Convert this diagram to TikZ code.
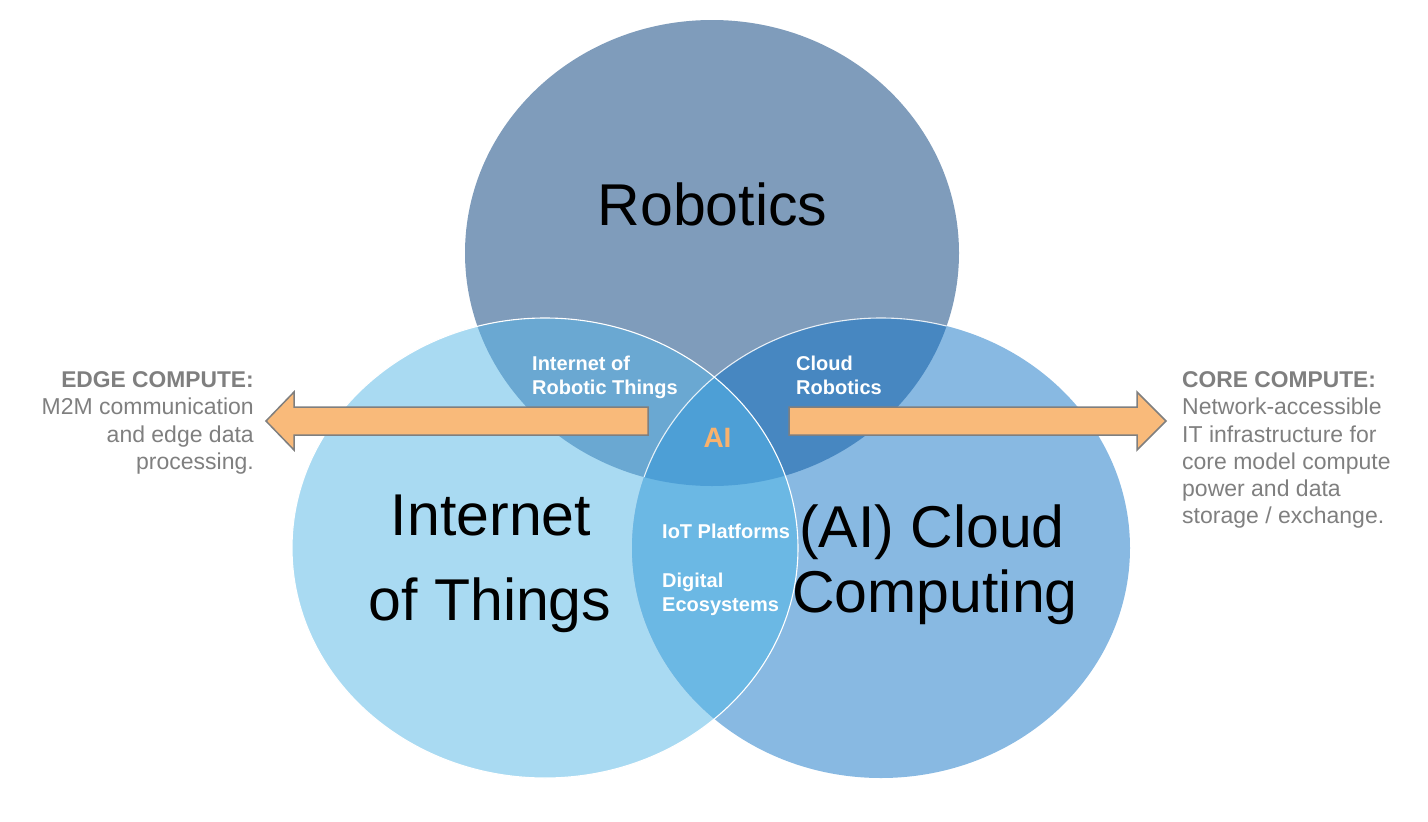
\documentclass[tikz,border=0pt]{standalone}
\usepackage{fontspec}
\setmainfont{Liberation Sans}
\definecolor{cTop}{HTML}{7F9CBB}
\definecolor{cLeft}{HTML}{A9DAF2}
\definecolor{cRight}{HTML}{88B9E2}
\definecolor{cTL}{HTML}{6AA8D2}
\definecolor{cTR}{HTML}{4787C1}
\definecolor{cLR}{HTML}{6BB8E4}
\definecolor{cAll}{HTML}{4D9FD6}
\definecolor{cGray}{HTML}{7F7F7F}
\definecolor{cOrange}{HTML}{F9BA7A}
\definecolor{cAI}{HTML}{F8B26E}
\tikzset{
  big/.style={font=\fontsize{59}{59}\selectfont, inner sep=0pt, anchor=base},
  lbl/.style={font=\bfseries\fontsize{20}{20}\selectfont, text=white, inner sep=0pt, anchor=base west},
  sidehead/.style={font=\bfseries\fontsize{22.8}{22.8}\selectfont, text=cGray, inner sep=0pt},
  sidetxt/.style={font=\fontsize{23}{23}\selectfont, text=cGray, inner sep=0pt},
  arrowshape/.style={fill=cOrange, draw=cGray, line width=1.5pt, line join=miter},
  rim/.style={draw=white, line width=1.1pt}
}
\begin{document}
\begin{tikzpicture}[x=1pt,y=-1pt]
\useasboundingbox (0,0) rectangle (1428,822);
% base circles
\fill[cTop] (712,253) ellipse [x radius=247pt, y radius=233pt];
\fill[cLeft] (545,548) ellipse [x radius=253pt, y radius=230pt];
\fill[cRight] (881,548) ellipse [x radius=249pt, y radius=230pt];
% pairwise overlaps
\begin{scope}
  \clip (712,253) ellipse [x radius=247pt, y radius=233pt];
  \fill[cTL] (545,548) ellipse [x radius=253pt, y radius=230pt];
  \fill[cTR] (881,548) ellipse [x radius=249pt, y radius=230pt];
\end{scope}
\begin{scope}
  \clip (545,548) ellipse [x radius=253pt, y radius=230pt];
  \fill[cLR] (881,548) ellipse [x radius=249pt, y radius=230pt];
  \clip (881,548) ellipse [x radius=249pt, y radius=230pt];
  \fill[cAll] (712,253) ellipse [x radius=247pt, y radius=233pt];
\end{scope}
% white rims
\draw[rim] (545,548) ellipse [x radius=253pt, y radius=230pt];
\begin{scope}
  \clip (712,253) ellipse [x radius=247pt, y radius=233pt];
  \draw[rim, draw opacity=0.85] (881,548) ellipse [x radius=249pt, y radius=230pt];
\end{scope}
% arrows
\draw[arrowshape] (648,407) -- (294,407) -- (294,392) -- (266,421) -- (294,450) -- (294,435) -- (648,435) -- cycle;
\draw[arrowshape] (789,407) -- (1137,407) -- (1137,392) -- (1166,421) -- (1137,450) -- (1137,435) -- (789,435) -- cycle;
% big labels
\node[big] (rob) at (712.5,225) {Robotics};
\node[big] (iot1) at (491,535) {Internet};
\node[big] (iot2) at (490,620) {of Things};
\node[big] (cc1) at (932,547) {(AI) Cloud};
\node[big] (cc2) at (935,612) {Computing};
% overlap labels
\node[lbl] (iort1) at (532,370) {Internet of};
\node[lbl] (iort2) at (532,394) {Robotic Things};
\node[lbl] (cr1) at (796,370) {Cloud};
\node[lbl] (cr2) at (796,394) {Robotics};
\node[lbl] (iotp) at (662,538) {IoT Platforms};
\node[lbl] (de1) at (662,587) {Digital};
\node[lbl] (de2) at (662,611) {Ecosystems};
\node[font=\bfseries\fontsize{28}{28}\selectfont, text=cAI, inner sep=0pt, anchor=base] (ai) at (717.5,447) {AI};
% side texts
\node[sidehead, anchor=base east] (e0) at (254,387) {EDGE COMPUTE:};
\node[sidetxt, anchor=base east] (e1) at (254,414.5) {M2M communication};
\node[sidetxt, anchor=base east] (e2) at (254,442) {and edge data};
\node[sidetxt, anchor=base east] (e3) at (254,469) {processing.};
\node[sidehead, anchor=base west] (c0) at (1182,387) {CORE COMPUTE:};
\node[sidetxt, anchor=base west] (c1) at (1182,414.5) {Network-accessible};
\node[sidetxt, anchor=base west] (c2) at (1182,442) {IT infrastructure for};
\node[sidetxt, anchor=base west] (c3) at (1182,469) {core model compute};
\node[sidetxt, anchor=base west] (c4) at (1182,496) {power and data};
\node[sidetxt, anchor=base west] (c5) at (1182,523) {storage / exchange.};
\end{tikzpicture}
\end{document}
